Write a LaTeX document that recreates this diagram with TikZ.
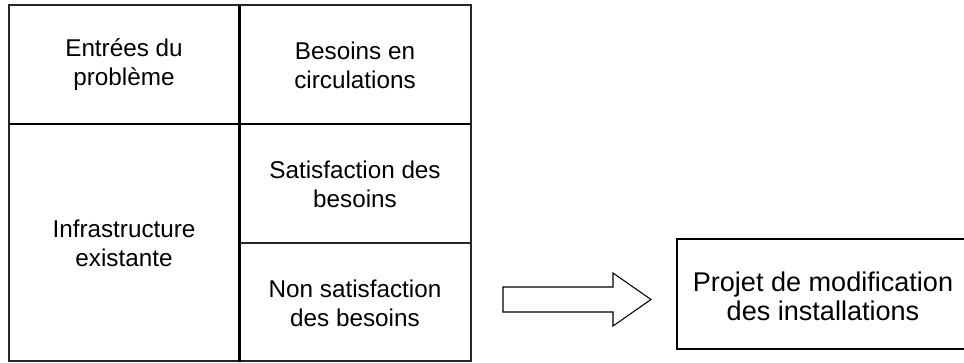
\documentclass[tikz,border=0pt]{standalone}
\usepackage{fontspec}
\setmainfont{Liberation Sans}
\begin{document}
\begin{tikzpicture}[x=0.75pt,y=-0.75pt,
  celltext/.style={align=center,font=\fontsize{18.2pt}{21.75pt}\selectfont,inner sep=0pt},
  bigtext/.style={align=center,font=\fontsize{20.3pt}{22pt}\selectfont,inner sep=0pt},
  thinline/.style={line width=0.8pt,draw=black!85},
  thickline/.style={line width=2.2pt,draw=black}]
\useasboundingbox (0,0) rectangle (964,362);
% table
\draw[thinline] (9,361) -- (9,5) -- (471,5) -- (471,361) -- cycle;
\draw[thickline] (239.5,5) -- (239.5,362);
\draw[thickline] (9,124) -- (471,124);
\draw[thinline] (239.5,243) -- (471,243);
% texts
\node[celltext] (entrees) at (124,65) {Entrées du\\problème};
\node[celltext] (besoins) at (355,65) {Besoins en\\circulations};
\node[celltext] (infra) at (124,243) {Infrastructure\\existante};
\node[celltext] (sat) at (355,184) {Satisfaction des\\besoins};
\node[celltext] (nonsat) at (355,303) {Non satisfaction\\des besoins};
% block arrow
\draw[line width=0.8pt,line join=miter] (503,287) -- (613,287) -- (613,273) -- (651,299.5) -- (613,326) -- (613,312) -- (503,312) -- cycle;
% result box
\draw[line width=0.8pt] (968,239) -- (677,239) -- (677,349) -- (968,349);
\node[bigtext] (projet) at (823,296) {Projet de modification\\des installations};
\end{tikzpicture}
\end{document}
